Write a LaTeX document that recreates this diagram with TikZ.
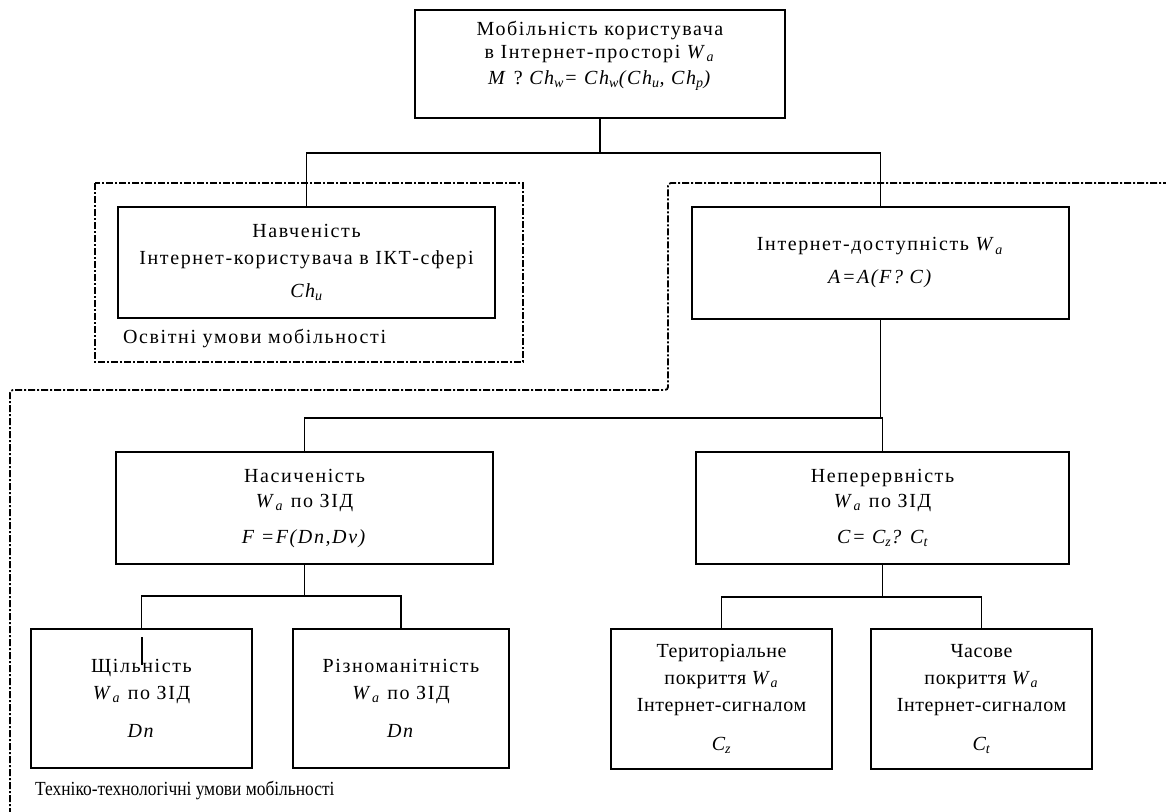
\documentclass[tikz,border=0pt]{standalone}
\usepackage{fontspec}
\setmainfont{Liberation Serif}[LetterSpace=8]
\newfontfamily\midfont{Liberation Serif}[LetterSpace=3]
\newfontfamily\narrowfont{Liberation Serif}[FakeStretch=0.87]
\newcommand{\Wa}{\textit{W}\textsubscript{\textit{a}}}
\begin{document}
\begin{tikzpicture}[x=1pt,y=-1pt,
  box/.style={draw, line width=1.5pt, align=center, inner sep=0pt,
    font=\fontsize{20}{27}\selectfont},
  conn/.style={line width=1.5pt},
  dashbox/.style={line width=1.8pt, dash pattern=on 7pt off 2pt on 2pt off 2pt},
  lbl/.style={anchor=west, inner sep=0pt, font=\fontsize{20}{23}\selectfont}]
\useasboundingbox (0,0) rectangle (1166,811);

% dashed regions
\draw[dashbox] (95,183) rectangle (523,362);
\draw[dashbox, rounded corners=3pt] (1170,183) -- (668,183) -- (668,390) -- (10,390) -- (10,815);

% boxes
\node[box, minimum width=370pt, minimum height=108pt] (top) at (600,64) {};
\node[align=center, inner sep=0pt, font=\fontsize{20}{23}\selectfont] (toptext) at (600,56)
  {Мобільність користувача\\ в Інтернет-просторі \Wa\\[3pt]
   \textit{M} ? \textit{Ch\textsubscript{w}= Ch\textsubscript{w}(Ch\textsubscript{u}, Ch\textsubscript{p})}};

\node[box, minimum width=377pt, minimum height=111pt] (nav) at (306.5,262.5)
  {Навченість\\ Інтернет-користувача в ІКТ-сфері\\[6pt] \textit{Ch\textsubscript{u}}};
\node[box, minimum width=377pt, minimum height=112pt] (inet) at (880.5,263)
  {Інтернет-доступність \Wa\\[6pt] \textit{A=A(F? C)}};

\node[box, minimum width=377pt, minimum height=112pt] (nas) at (304.5,508)
  {Насиченість\\[-2pt] \Wa{} по ЗІД\\[9pt] \textit{F =F(Dn,Dv)}};
\node[box, minimum width=373pt, minimum height=112pt] (nep) at (882.5,508)
  {Неперервність\\[-2pt] \Wa{} по ЗІД\\[9pt] \textit{C= C\textsubscript{z}? C\textsubscript{t}}};

\node[box, minimum width=221pt, minimum height=139pt] (shch) at (141.5,698.5)
  {Щільність\\ \Wa{} по ЗІД\\[11pt] \textit{Dn}};
\node[box, minimum width=216pt, minimum height=139pt] (rizn) at (401,698.5)
  {Різноманітність\\ \Wa{} по ЗІД\\[11pt] \textit{Dn}};
\node[box, minimum width=221pt, minimum height=140pt, font=\midfont\fontsize{20}{27}\selectfont] (ter) at (721.5,699)
  {Територіальне\\ покриття \Wa\\ Інтернет-сигналом\\[12pt] \textit{C\textsubscript{z}}};
\node[box, minimum width=221pt, minimum height=140pt, font=\midfont\fontsize{20}{27}\selectfont] (chas) at (981.5,699)
  {Часове\\ покриття \Wa\\ Інтернет-сигналом\\[12pt] \textit{C\textsubscript{t}}};

% labels
\node[lbl] (l1) at (123,338) {Освітні умови мобільності};
\node[lbl, font=\narrowfont\fontsize{20}{23}\selectfont] (l2) at (35,790) {Техніко-технологічні умови мобільності};

% connectors
\coordinate (j1) at (600,153);
\coordinate (j2) at (884,418);
\coordinate (j3) at (303,596);
\coordinate (j4) at (886,597);
\draw[conn] (top.south) -- (j1);
\draw[conn] (nav.north) |- (j1) -| (inet.north);
\draw[conn] (inet.south) -- (inet.south |- j2);
\draw[conn] (nas.north) |- (inet.south |- j2) -| (nep.north);
\draw[conn] (nas.south) -- (nas.south |- j3);
\draw[conn] (shch.north) |- (nas.south |- j3) -| (rizn.north);
\coordinate (s1) at (142,637);
\coordinate (s2) at (142,665);
\draw[conn] (s1) -- (s2);
\draw[conn] (nep.south) -- (nep.south |- j4);
\draw[conn] (ter.north) |- (nep.south |- j4) -| (chas.north);
\end{tikzpicture}
\end{document}
